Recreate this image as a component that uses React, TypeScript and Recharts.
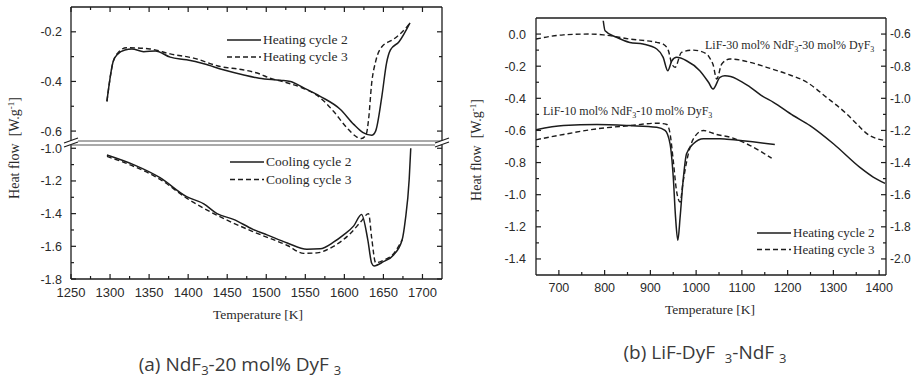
import { LineChart, Line, XAxis, YAxis } from "recharts"

const INK = "#1c1c1c"
const TXT = "#2a2a2a"
const SERIF = "'Liberation Serif', 'Times New Roman', serif"
const SANS = "'Liberation Sans', Arial, sans-serif"

// (a) NdF3-20 mol% DyF3 — heating
const heat2T = [1296, 1304, 1310, 1319, 1328, 1343, 1358, 1377, 1398, 1420, 1445, 1470, 1491, 1518, 1531, 1548, 1569, 1595, 1612, 1624, 1635, 1640, 1648, 1654, 1659, 1670, 1684]
const heat2 = [-0.48, -0.32, -0.289, -0.273, -0.269, -0.28, -0.277, -0.302, -0.313, -0.329, -0.353, -0.373, -0.387, -0.395, -0.4, -0.426, -0.46, -0.513, -0.573, -0.606, -0.617, -0.6, -0.46, -0.326, -0.273, -0.24, -0.164]
const heat3T = [1296, 1304, 1310, 1321, 1351, 1377, 1407, 1441, 1470, 1491, 1505, 1520, 1543, 1569, 1586, 1603, 1616, 1622, 1628, 1631, 1635, 1640, 1648, 1663, 1680, 1684]
const heat3 = [-0.48, -0.32, -0.285, -0.264, -0.269, -0.289, -0.306, -0.34, -0.353, -0.369, -0.387, -0.4, -0.422, -0.466, -0.52, -0.586, -0.624, -0.63, -0.613, -0.553, -0.406, -0.32, -0.26, -0.23, -0.18, -0.164]

// (a) cooling
const cool2T = [1296, 1330, 1364, 1398, 1420, 1437, 1458, 1483, 1501, 1527, 1552, 1569, 1586, 1599, 1612, 1622, 1630, 1635, 1638, 1650, 1663, 1674, 1678, 1683, 1685]
const cool2 = [-1.041, -1.1, -1.18, -1.296, -1.34, -1.4, -1.435, -1.496, -1.53, -1.58, -1.618, -1.615, -1.575, -1.53, -1.475, -1.405, -1.56, -1.704, -1.72, -1.694, -1.653, -1.56, -1.44, -1.19, -1.0]
const cool3T = [1296, 1330, 1364, 1398, 1437, 1483, 1527, 1548, 1565, 1586, 1608, 1621, 1631, 1635, 1640, 1650, 1663, 1674]
const cool3 = [-1.05, -1.11, -1.19, -1.305, -1.41, -1.51, -1.595, -1.643, -1.64, -1.6, -1.52, -1.45, -1.4, -1.55, -1.7, -1.685, -1.645, -1.56]

// (b) LiF-30 mol% NdF3-30 mol% DyF3
const l30c2T = [797, 801, 826, 855, 884, 914, 928, 938, 947, 957, 979, 1008, 1027, 1037, 1052, 1063, 1118, 1143, 1169, 1212, 1249, 1300, 1358, 1387, 1413]
const l30c2 = [0.083, 0.02, -0.02, -0.052, -0.062, -0.093, -0.145, -0.228, -0.166, -0.145, -0.166, -0.228, -0.3, -0.342, -0.27, -0.26, -0.33, -0.383, -0.425, -0.507, -0.57, -0.683, -0.83, -0.89, -0.93]
const l30c3T = [650, 710, 768, 797, 855, 914, 928, 939, 947, 954, 968, 994, 1023, 1030, 1037, 1045, 1056, 1074, 1118, 1154, 1198, 1242, 1285, 1329, 1351, 1373, 1413]
const l30c3 = [-0.031, -0.005, 0.0, -0.005, -0.031, -0.052, -0.062, -0.1, -0.186, -0.207, -0.114, -0.1, -0.124, -0.15, -0.19, -0.28, -0.186, -0.155, -0.176, -0.207, -0.248, -0.3, -0.394, -0.497, -0.559, -0.62, -0.663]

// (b) LiF-10 mol% NdF3-10 mol% DyF3
const l10c2T = [650, 710, 783, 855, 914, 932, 943, 950, 955, 960, 965, 971, 979, 994, 1016, 1052, 1067, 1172]
const l10c2 = [-0.596, -0.57, -0.563, -0.57, -0.58, -0.6, -0.683, -0.89, -1.14, -1.284, -1.14, -0.93, -0.745, -0.683, -0.652, -0.652, -0.655, -0.688]
const l10c3T = [650, 710, 783, 855, 914, 936, 943, 950, 957, 965, 971, 983, 994, 1016, 1030, 1045, 1074, 1118, 1165]
const l10c3 = [-0.658, -0.625, -0.59, -0.57, -0.555, -0.563, -0.62, -0.787, -0.973, -1.046, -0.93, -0.745, -0.652, -0.6, -0.611, -0.625, -0.642, -0.694, -0.773]

// ticks
const aXMajor = [1250, 1300, 1350, 1400, 1450, 1500, 1550, 1600, 1650, 1700]
const aXMinor = [1275, 1325, 1375, 1425, 1475, 1525, 1575, 1625, 1675]
const aTopMajor = [-0.6, -0.4, -0.2]
const aTopMinor = [-0.5, -0.3]
const aBotMajor = [-1.8, -1.6, -1.4, -1.2, -1.0]
const aBotMinor = [-1.7, -1.5, -1.3, -1.1]
const bXMajor = [700, 800, 900, 1000, 1100, 1200, 1300, 1400]
const bXMinor = [750, 850, 950, 1050, 1150, 1250, 1350]
const bLMajor = [0, -0.2, -0.4, -0.6, -0.8, -1.0, -1.2, -1.4]
const bLMinor = [-0.1, -0.3, -0.5, -0.7, -0.9, -1.1, -1.3]
const bRMajor = [-0.6, -0.8, -1.0, -1.2, -1.4, -1.6, -1.8, -2.0]
const bRMinor = [-0.7, -0.9, -1.1, -1.3, -1.5, -1.7, -1.9]

const pts = (t: number[], v: number[]) => t.map((x, i) => ({ t: x, v: v[i] }))

type Side = "left" | "right" | "top" | "bottom"

// inward ticks (Origin style), majors longer, labels only where asked
function makeTick(side: Side, majors: number[], gap: number, showLabel: boolean, fontSize: number, fmt: (v: number) => string) {
  return (props: any) => {
    const { x, y, payload } = props
    const val = payload.value as number
    const isMajor = majors.some((m) => Math.abs(m - val) < 1e-6)
    const len = isMajor ? 5 : 3
    let line = null
    let label = null
    const tp = { fontFamily: SANS, fontSize, fill: TXT }
    if (side === "left") {
      const ax = x + gap
      line = <line x1={ax} y1={y} x2={ax + len} y2={y} stroke={INK} strokeWidth={1.2} />
      if (showLabel && isMajor) label = <text x={x} y={y} dy="0.36em" textAnchor="end" {...tp}>{fmt(val)}</text>
    } else if (side === "right") {
      const ax = x - gap
      line = <line x1={ax} y1={y} x2={ax - len} y2={y} stroke={INK} strokeWidth={1.2} />
      if (showLabel && isMajor) label = <text x={x} y={y} dy="0.36em" textAnchor="start" {...tp}>{fmt(val)}</text>
    } else if (side === "bottom") {
      const ay = y - gap
      line = <line x1={x} y1={ay} x2={x} y2={ay - len} stroke={INK} strokeWidth={1.2} />
      if (showLabel && isMajor) label = <text x={x} y={y} dy="0.72em" textAnchor="middle" {...tp}>{fmt(val)}</text>
    } else {
      const ay = y + gap
      line = <line x1={x} y1={ay} x2={x} y2={ay + len} stroke={INK} strokeWidth={1.2} />
    }
    return (
      <g>
        {line}
        {label}
      </g>
    )
  }
}

const f1 = (v: number) => v.toFixed(1)
const f0 = (v: number) => String(v)
const axisLine = { stroke: INK, strokeWidth: 1.3 }
const solid = { stroke: INK, strokeWidth: 1.5, dot: false, isAnimationActive: false, type: "monotone" as const }
const dashed = { ...solid, strokeWidth: 1.4, strokeDasharray: "5 3" }

function LegendRows({ x, y, dy, labels, fs }: { x: number; y: number; dy: number; labels: string[]; fs: number }) {
  return (
    <g>
      {labels.map((l, i) => (
        <g key={l}>
          <line x1={x} x2={x + 34} y1={y + i * dy} y2={y + i * dy} stroke={INK} strokeWidth={1.5} strokeDasharray={i === 1 ? "5 3" : undefined} />
          <text x={x + 36} y={y + i * dy} dy="0.32em" fontFamily={SERIF} fontSize={fs} fill={TXT}>
            {l}
          </text>
        </g>
      ))}
    </g>
  )
}

function BreakMark({ x, y }: { x: number; y: number }) {
  return (
    <g>
      <polygon points={`${x - 7},${y + 3} ${x + 7},${y - 2} ${x + 7},${y + 2} ${x - 7},${y + 7}`} fill="#fff" />
      <line x1={x - 7} y1={y + 3} x2={x + 7} y2={y - 2} stroke={INK} strokeWidth={1.2} />
      <line x1={x - 7} y1={y + 7} x2={x + 7} y2={y + 2} stroke={INK} strokeWidth={1.2} />
    </g>
  )
}

export default function App() {
  const aX = [...aXMajor, ...aXMinor].sort((p, q) => p - q)
  const aTopY = [...aTopMajor, ...aTopMinor]
  const aBotY = [...aBotMajor, ...aBotMinor]
  const bX = [...bXMajor, ...bXMinor].sort((p, q) => p - q)
  const bL = [...bLMajor, ...bLMinor]
  const bR = [...bRMajor, ...bRMinor]

  return (
    <div style={{ position: "absolute", left: 0, top: 0, width: 913, height: 382, background: "#fff", overflow: "hidden" }}>
      {/* (a) heating, upper part of broken axis */}
      <div style={{ position: "absolute", left: 0, top: 0 }}>
        <LineChart width={460} height={150} margin={{ top: 0, right: 0, bottom: 9, left: 11 }}>
          <XAxis xAxisId="x" orientation="top" type="number" dataKey="t" domain={[1250, 1725]} allowDataOverflow height={7}
            ticks={aX} interval={0} tickSize={0} tickMargin={0} tickLine={false} axisLine={axisLine}
            tick={makeTick("top", aXMajor, 0, false, 12, f0)} />
          <YAxis yAxisId="y" orientation="left" type="number" domain={[-0.64, -0.1]} allowDataOverflow width={60}
            ticks={aTopY} interval={0} tickSize={0} tickMargin={9} tickLine={false} axisLine={axisLine}
            tick={makeTick("left", aTopMajor, 9, true, 12.5, f1)} />
          <YAxis yAxisId="r" orientation="right" type="number" domain={[-0.64, -0.1]} allowDataOverflow width={18}
            ticks={aTopY} interval={0} tickSize={0} tickMargin={0} tickLine={false} axisLine={axisLine}
            tick={makeTick("right", aTopMajor, 0, false, 12, f1)} />
          <Line xAxisId="x" yAxisId="y" data={pts(heat2T, heat2)} dataKey="v" {...solid} />
          <Line xAxisId="x" yAxisId="y" data={pts(heat3T, heat3)} dataKey="v" {...dashed} />
        </LineChart>
      </div>

      {/* (a) cooling, lower part */}
      <div style={{ position: "absolute", left: 0, top: 140 }}>
        <LineChart width={460} height={180} margin={{ top: 5, right: 0, bottom: 0, left: 11 }}>
          <XAxis xAxisId="x" orientation="bottom" type="number" dataKey="t" domain={[1250, 1725]} allowDataOverflow height={41}
            ticks={aX} interval={0} tickSize={0} tickMargin={9} tickLine={false} axisLine={axisLine}
            tick={makeTick("bottom", aXMajor, 9, true, 13, f0)} />
          <YAxis yAxisId="y" orientation="left" type="number" domain={[-1.8, -0.98]} allowDataOverflow width={60}
            ticks={aBotY} interval={0} tickSize={0} tickMargin={9} tickLine={false} axisLine={axisLine}
            tick={makeTick("left", aBotMajor, 9, true, 12.5, f1)} />
          <YAxis yAxisId="r" orientation="right" type="number" domain={[-1.8, -0.98]} allowDataOverflow width={18}
            ticks={aBotY} interval={0} tickSize={0} tickMargin={0} tickLine={false} axisLine={axisLine}
            tick={makeTick("right", aBotMajor, 0, false, 12, f1)} />
          <Line xAxisId="x" yAxisId="y" data={pts(cool2T, cool2)} dataKey="v" {...solid} />
          <Line xAxisId="x" yAxisId="y" data={pts(cool3T, cool3)} dataKey="v" {...dashed} />
        </LineChart>
      </div>

      {/* (b) LiF-DyF3-NdF3 */}
      <div style={{ position: "absolute", left: 460, top: 0 }}>
        <LineChart width={453} height={330} margin={{ top: 0, right: 0, bottom: 15, left: 16 }}>
          <XAxis xAxisId="x" orientation="bottom" type="number" dataKey="t" domain={[650, 1415]} allowDataOverflow height={40}
            ticks={bX} interval={0} tickSize={0} tickMargin={8} tickLine={false} axisLine={axisLine}
            tick={makeTick("bottom", bXMajor, 8, true, 12.5, f0)} />
          <XAxis xAxisId="xt" orientation="top" type="number" domain={[650, 1415]} allowDataOverflow height={18}
            ticks={bX} interval={0} tickSize={0} tickMargin={0} tickLine={false} axisLine={axisLine}
            tick={makeTick("top", bXMajor, 0, false, 12, f0)} />
          <YAxis yAxisId="y" orientation="left" type="number" domain={[-1.5, 0.1]} allowDataOverflow width={60}
            ticks={bL} interval={0} tickSize={0} tickMargin={10} tickLine={false} axisLine={axisLine}
            tick={makeTick("left", bLMajor, 10, true, 12.5, f1)} />
          <YAxis yAxisId="r" orientation="right" type="number" domain={[-2.1, -0.5]} allowDataOverflow width={27}
            ticks={bR} interval={0} tickSize={0} tickMargin={4} tickLine={false} axisLine={axisLine}
            tick={makeTick("right", bRMajor, 4, true, 12, f1)} />
          <Line xAxisId="x" yAxisId="y" data={pts(l30c2T, l30c2)} dataKey="v" {...solid} />
          <Line xAxisId="x" yAxisId="y" data={pts(l30c3T, l30c3)} dataKey="v" {...dashed} />
          <Line xAxisId="x" yAxisId="y" data={pts(l10c2T, l10c2)} dataKey="v" {...solid} />
          <Line xAxisId="x" yAxisId="y" data={pts(l10c3T, l10c3)} dataKey="v" {...dashed} />
        </LineChart>
      </div>

      {/* titles, legends, break, captions */}
      <svg width={913} height={382} style={{ position: "absolute", left: 0, top: 0, pointerEvents: "none" }}>
        <line x1={71} x2={442} y1={141} y2={141} stroke="#555" strokeWidth={1} />
        <line x1={71} x2={442} y1={145} y2={145} stroke="#555" strokeWidth={1} />
        <BreakMark x={71} y={140} />
        <BreakMark x={442} y={140} />

        <text transform="translate(19,148) rotate(-90)" textAnchor="middle" fontFamily={SERIF} fontSize={14} fill={TXT}>
          Heat flow{"\u00a0\u00a0"}[W.g<tspan dy={-5} fontSize={9}>-1</tspan>
          <tspan dy={5}>]</tspan>
        </text>
        <text transform="translate(481,150) rotate(-90)" textAnchor="middle" fontFamily={SERIF} fontSize={14} fill={TXT}>
          Heat flow{"\u00a0\u00a0"}[W.g<tspan dy={-5} fontSize={9}>-1</tspan>
          <tspan dy={5}>]</tspan>
        </text>
        <text x={258} y={319} textAnchor="middle" fontFamily={SERIF} fontSize={13.5} fill={TXT}>Temperature [K]</text>
        <text x={710} y={314} textAnchor="middle" fontFamily={SERIF} fontSize={13.5} fill={TXT}>Temperature [K]</text>

        <LegendRows x={227} y={40} dy={17} labels={["Heating cycle 2", "Heating cycle 3"]} fs={13.5} />
        <LegendRows x={230} y={162} dy={17.5} labels={["Cooling cycle 2", "Cooling cycle 3"]} fs={13.5} />
        <LegendRows x={757} y={233} dy={16.5} labels={["Heating cycle 2", "Heating cycle 3"]} fs={13} />

        <text x={705} y={49} fontFamily={SERIF} fontSize={12} fill={TXT}>
          LiF-30 mol% NdF<tspan dy={3} fontSize={8}>3</tspan>
          <tspan dy={-3}>-30 mol% DyF</tspan>
          <tspan dy={3} fontSize={8}>3</tspan>
        </text>
        <text x={543} y={115} fontFamily={SERIF} fontSize={12} fill={TXT}>
          LiF-10 mol% NdF<tspan dy={3} fontSize={8}>3</tspan>
          <tspan dy={-3}>-10 mol% DyF</tspan>
          <tspan dy={3} fontSize={8}>3</tspan>
        </text>

        <text x={240} y={371} textAnchor="middle" fontFamily="'Open Sans', sans-serif" fontSize={19} fill="#3a3a3a">
          (a) NdF<tspan dy={4} fontSize={13}>3</tspan>
          <tspan dy={-4}>-20 mol% DyF </tspan>
          <tspan dy={4} fontSize={13}>3</tspan>
        </text>
        <text x={705} y={359} textAnchor="middle" fontFamily="'Open Sans', sans-serif" fontSize={19} fill="#3a3a3a">
          (b) LiF-DyF{"\u00a0\u00a0"}<tspan dy={4} fontSize={13}>3</tspan>
          <tspan dy={-4}>-NdF </tspan>
          <tspan dy={4} fontSize={13}>3</tspan>
        </text>
      </svg>
    </div>
  )
}
